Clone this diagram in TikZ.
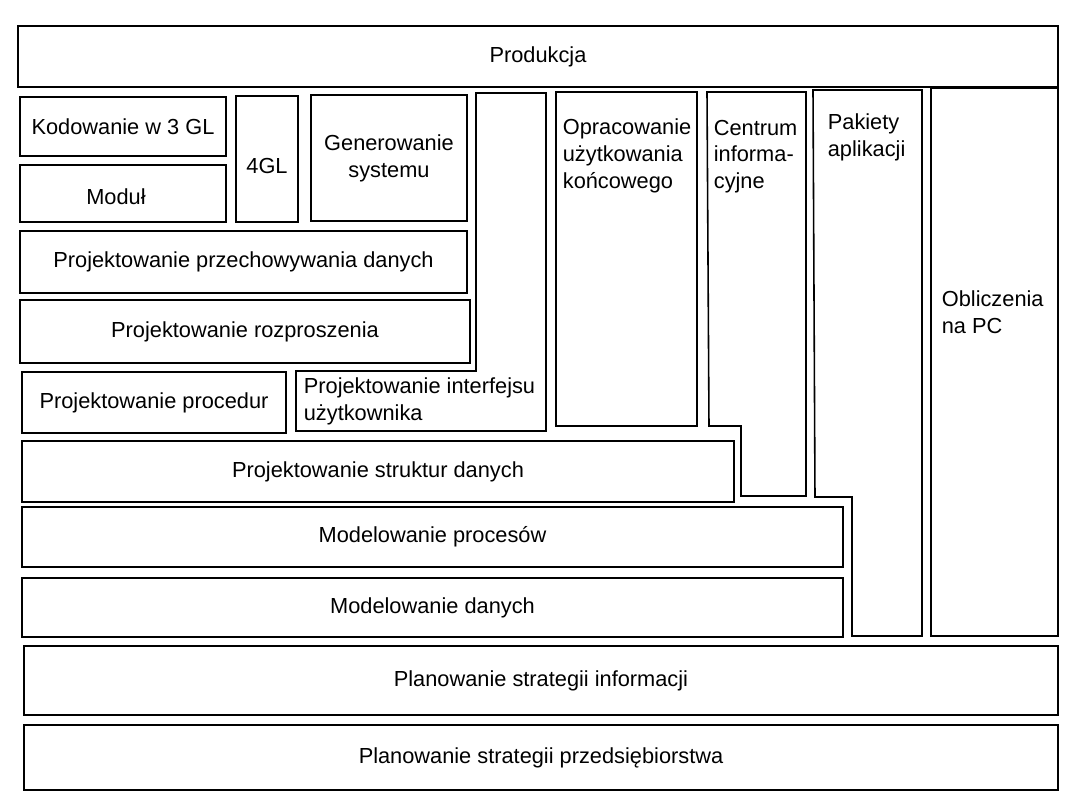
\documentclass[tikz,border=0pt]{standalone}
\usepackage{fontspec}
\setmainfont{Liberation Sans}
\usepackage{tikz}
\usetikzlibrary{positioning}

\begin{document}
\begin{tikzpicture}[
    x=0.02cm, y=-0.02cm,
    blok/.style={rectangle, draw, line width=0.9pt, inner sep=0pt, align=center, font=\fontsize{12.4}{15.3}\selectfont},
    wym/.style 2 args={minimum width=#1*0.02cm, minimum height=#2*0.02cm},
    ramka/.style={draw, line width=0.9pt},
    opis/.style={inner sep=2pt, align=left, font=\fontsize{12.4}{15.3}\selectfont}
  ]
    \useasboundingbox (0,0) rectangle (1080,810);

    % Top layer
    \node (prod) [blok, wym={1040}{61}] at (538,56.5) {Produkcja};

    % Left block
    \node (kod) [blok, wym={206}{59}] at (123,126.5) {Kodowanie w 3 GL};
    \node (modul) [blok, wym={206}{57}] at (123,193.5) {};
    \node (modulT) [opis] at (116,197) {Moduł};
    \node (gl4) [blok, wym={62}{126}] at (267,159) {};
    \node (gl4T) [opis] at (267,166) {4GL};
    \node (gen) [blok, wym={156}{126}] at (389,158) {Generowanie\\systemu};
    \node (przech) [blok, wym={447}{62}] at (243.5,262) {Projektowanie przechowywania danych};
    \node (rozpr) [blok, wym={450}{63}] at (245,331.5) {Projektowanie rozproszenia};
    \node (proc) [blok, wym={264}{61}] at (154,402.5) {Projektowanie procedur};

    % Interface (L shape)
    \draw [ramka] (476,93) -- (546,93) -- (546,431) -- (296,431) -- (296,371) -- (476,371) -- cycle;
    \node (interf) [opis, anchor=west] at (300,401) {Projektowanie interfejsu\\użytkownika};

    % End-user computing
    \node (oprac) [blok, wym={141}{334}] at (626.5,259) {};
    \node (opracT) [opis, anchor=north west] at (559,115) {Opracowanie\\użytkowania\\końcowego};

    % Information centre (L shape)
    \draw [ramka] (707,92) -- (806,92) -- (806,496) -- (741,496) -- (741,426) -- (709,426) -- cycle;
    \node (centr) [opis, anchor=north west] at (710,116) {Centrum\\informa-\\cyjne};

    \node (strukt) [blok, wym={712}{61}] at (378,471.5) {Projektowanie struktur danych};

    % Application packages (L shape)
    \draw [ramka] (813,90) -- (922,90) -- (922,636) -- (852,636) -- (852,497) -- (815,497) -- cycle;
    \node (pak) [opis, anchor=north west] at (824,110) {Pakiety\\aplikacji};

    \node (mproc) [blok, wym={821}{60}] at (432.5,537) {Modelowanie procesów};
    \node (mdan) [blok, wym={821}{59}] at (432.5,607.5) {Modelowanie danych};

    % PC
    \node (pc) [blok, wym={127}{548}] at (994.5,362) {};
    \node (pcT) [opis, anchor=west] at (938,312) {Obliczenia\\na PC};

    % Planning layers
    \node (plinf) [blok, wym={1034}{69}] at (541,680.5) {Planowanie strategii informacji};
    \node (plprz) [blok, wym={1034}{65}] at (541,757.5) {Planowanie strategii przedsiębiorstwa};

  \end{tikzpicture}
\end{document}
